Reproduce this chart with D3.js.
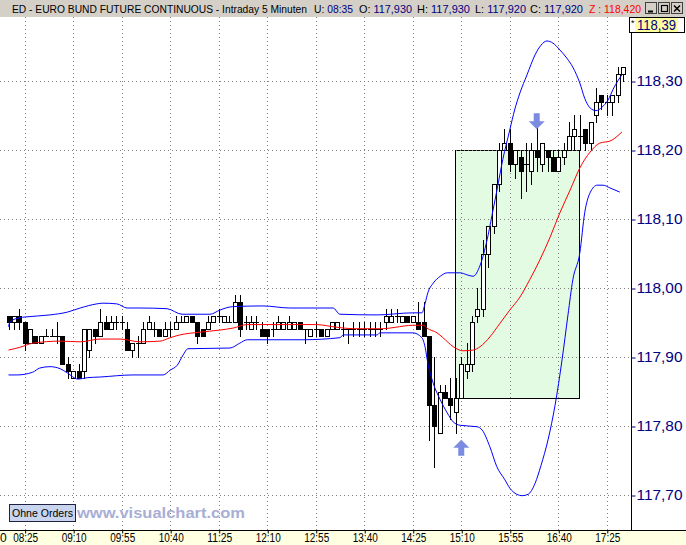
<!DOCTYPE html>
<html><head><meta charset="utf-8">
<script src="https://cdn.jsdelivr.net/npm/d3@7"></script>
<style>body{margin:0;background:#fff;}svg{display:block;font-family:"Liberation Sans",Arial,sans-serif;}</style>
</head><body><svg id="c" width="686" height="545"></svg>
<script>
// ---------- data ----------
const firstBar = "08:10";
const timeLabels = ["08:25","09:10","09:55","10:40","11:25","12:10","12:55","13:40","14:25","15:10","15:55","16:40","17:25"];
const priceTicks = [117.70,117.80,117.90,118.00,118.10,118.20,118.30];

const open = [117.96,117.95,117.96,117.95,117.92,117.93,117.92,117.93,117.93,117.93,
117.93,117.89,117.87,117.88,117.88,117.91,117.94,117.93,117.95,117.94,
117.95,117.95,117.94,117.91,117.92,117.92,117.94,117.94,117.94,117.93,
117.94,117.94,117.95,117.95,117.96,117.95,117.94,117.94,117.95,117.96,
117.95,117.95,117.95,117.98,117.95,117.94,117.95,117.94,117.94,117.94,
117.94,117.94,117.94,117.94,117.95,117.94,117.93,117.94,117.94,117.93,
117.94,117.94,117.94,117.94,117.94,117.94,117.94,117.94,117.94,117.94,
117.95,117.95,117.96,117.95,117.96,117.95,117.95,117.95,117.93,117.83,
117.79,117.85,117.84,117.82,117.84,117.88,117.89,117.96,117.97,118.05,
118.09,118.15,118.20,118.21,118.18,118.19,118.18,118.17,118.20,118.18,
118.20,118.19,118.17,118.19,118.20,118.22,118.22,118.23,118.21,118.25,
118.28,118.27,118.27,118.28,118.31];
const high = [117.96,117.96,117.97,117.95,117.94,117.93,117.93,117.94,117.94,117.95,
117.93,117.90,117.88,117.89,117.94,117.94,117.94,117.97,117.96,117.96,
117.96,117.96,117.95,117.92,117.93,117.95,117.96,117.95,117.94,117.95,
117.95,117.96,117.96,117.96,117.96,117.95,117.94,117.96,117.96,117.97,
117.96,117.96,117.99,117.99,117.96,117.96,117.96,117.95,117.94,117.95,
117.96,117.95,117.96,117.95,117.95,117.94,117.94,117.95,117.94,117.94,
117.95,117.95,117.95,117.94,117.95,117.95,117.95,117.95,117.95,117.95,
117.97,117.97,117.97,117.96,117.96,117.96,117.98,117.98,117.93,117.90,
117.86,117.86,117.87,117.87,117.90,117.92,117.96,118.00,118.07,118.09,
118.15,118.21,118.23,118.23,118.20,118.20,118.21,118.21,118.24,118.21,
118.20,118.20,118.20,118.21,118.24,118.25,118.25,118.23,118.24,118.29,
118.28,118.28,118.28,118.32,118.32];
const low = [117.94,117.94,117.94,117.91,117.92,117.92,117.92,117.93,117.93,117.92,
117.89,117.87,117.87,117.87,117.87,117.90,117.92,117.93,117.94,117.94,
117.94,117.94,117.91,117.90,117.90,117.92,117.94,117.93,117.93,117.93,
117.93,117.94,117.95,117.95,117.95,117.92,117.93,117.94,117.95,117.95,
117.95,117.95,117.95,117.93,117.94,117.94,117.94,117.93,117.92,117.93,
117.94,117.94,117.94,117.94,117.94,117.92,117.93,117.93,117.93,117.93,
117.94,117.94,117.93,117.92,117.93,117.93,117.93,117.93,117.93,117.93,
117.94,117.95,117.95,117.95,117.95,117.95,117.94,117.93,117.78,117.74,
117.79,117.84,117.81,117.79,117.84,117.87,117.88,117.95,117.96,118.03,
118.08,118.14,118.20,118.17,118.16,118.13,118.14,118.15,118.17,118.17,
118.17,118.17,118.17,118.18,118.20,118.20,118.20,118.20,118.20,118.24,
118.26,118.25,118.25,118.27,118.30];
const close = [117.95,117.96,117.95,117.92,117.94,117.92,117.93,117.93,117.93,117.93,
117.89,117.88,117.88,117.87,117.94,117.94,117.93,117.95,117.94,117.95,
117.95,117.95,117.91,117.92,117.92,117.94,117.95,117.94,117.93,117.94,
117.94,117.95,117.95,117.96,117.95,117.93,117.93,117.95,117.96,117.96,
117.96,117.95,117.98,117.94,117.95,117.95,117.95,117.93,117.93,117.94,
117.95,117.95,117.95,117.95,117.94,117.94,117.94,117.94,117.93,117.94,
117.95,117.95,117.94,117.94,117.94,117.94,117.94,117.94,117.94,117.94,
117.96,117.96,117.96,117.96,117.95,117.96,117.94,117.93,117.83,117.80,
117.85,117.84,117.83,117.84,117.89,117.89,117.95,117.97,118.05,118.09,
118.15,118.20,118.21,118.18,118.20,118.17,118.18,118.20,118.19,118.21,
118.19,118.17,118.19,118.20,118.22,118.23,118.22,118.21,118.24,118.27,
118.27,118.27,118.28,118.31,118.32];

// moving average (red), sampled at bar positions
const maBar = [0,2.1,4.5,9.6,13.3,17,20.7,24.4,28.1,30,31.8,35.5,39.2,41.7,44.3,47.2,52,57,61,64,69.5,71.7,75,77,77.6,79.5,80.6,82.5,84.3,86.2,87.5,89.3,91.2,93,94.9,96.7,98.6,100.5,102.3,104.2,106,107.9,109.7,111.6,113.8];
const maVal = [117.910,117.914,117.920,117.923,117.922,117.926,117.926,117.922,117.923,117.928,117.932,117.936,117.939,117.942,117.947,117.947,117.947,117.947,117.943,117.941,117.941,117.943,117.946,117.946,117.942,117.935,117.928,117.915,117.909,117.910,117.915,117.929,117.949,117.968,117.987,118.012,118.041,118.074,118.109,118.142,118.174,118.197,118.210,118.213,118.226];
// upper band (blue)
const upBar = [0,0.3,2.1,3.1,7.7,10.9,13.3,16.4,17.5,20.1,22.0,24.4,29.4,32.2,37.4,39.2,41.6,47.2,52.2,60.2,61.5,68.4,75.0,76.7,77.3,77.8,78.8,80.1,81.4,83.8,85.1,86.2,87.5,88.8,89.7,90.6,91.7,93.0,93.9,94.9,96.2,97.7,98.8,99.9,101.0,102.3,103.6,104.7,106.0,106.9,107.9,109.0,110.1,111.2,112.3,113.8];
const upVal = [117.944,117.951,117.957,117.958,117.961,117.965,117.971,117.977,117.978,117.977,117.971,117.971,117.970,117.962,117.962,117.968,117.973,117.974,117.971,117.971,117.962,117.961,117.964,117.964,117.978,117.993,118.007,118.017,118.022,118.022,118.019,118.017,118.033,118.070,118.105,118.141,118.186,118.229,118.258,118.283,118.309,118.338,118.352,118.358,118.355,118.345,118.333,118.320,118.297,118.275,118.261,118.257,118.262,118.272,118.290,118.309];
// lower band (blue)
const loBar = [0,1.6,4.5,5.8,7.7,9.6,10.9,12.9,14.6,17.0,23.1,28.7,30.0,31.3,32.4,33.3,41.1,42.9,44.3,54.6,61.5,62.1,68.4,68.9,75.0,76.7,77.3,77.8,78.8,80.1,81.4,82.5,83.8,86.9,87.9,89.3,90.6,92.1,93.0,94.3,95.3,96.4,97.7,98.8,100.1,101.4,102.7,103.8,104.7,106.0,106.9,107.9,109.2,110.3,111.6,113.4];
const loVal = [117.874,117.874,117.878,117.884,117.886,117.883,117.877,117.868,117.870,117.871,117.874,117.874,117.881,117.888,117.903,117.912,117.913,117.920,117.925,117.925,117.928,117.932,117.932,117.935,117.935,117.928,117.914,117.891,117.862,117.838,117.819,117.806,117.801,117.799,117.794,117.770,117.741,117.722,117.710,117.701,117.699,117.701,117.717,117.743,117.780,117.830,117.896,117.961,118.012,118.051,118.109,118.138,118.149,118.149,118.145,118.139];

// highlighted range (bars, prices) and signal arrows
const zoneBars = [82.8, 105.85];
const zonePrices = [117.84, 118.20];
const buyArrow = {bar: 84, price: 117.78};
const sellArrow = {bar: 98, price: 118.23};

const titleParts = [
  {label:"ED - EURO BUND FUTURE CONTINUOUS - Intraday 5 Minuten", value:"", x:12, w:295, fs:10, color:"#000080"},
  {label:"U: ", value:"08:35", x:314, w:39, fs:11, color:"#000080"},
  {label:"O: ", value:"117,930", x:359, w:53, fs:11, color:"#000080"},
  {label:"H: ", value:"117,930", x:417, w:53, fs:11, color:"#000080"},
  {label:"L: ", value:"117,920", x:475, w:51, fs:11, color:"#000080"},
  {label:"C: ", value:"117,920", x:530, w:53, fs:11, color:"#000080"},
  {label:"", value:"Z : 118,420", x:589, w:52, fs:11, color:"#ff0000"}
];
const lastPrice = "118,39";

// ---------- layout ----------
const W = 686, H = 545;
const plotL = 0, plotR = 631, plotT = 17, plotB = 530;
const toMin = t => { const [h,m] = t.split(":").map(Number); return h*60+m; };
const barOf = t => (toMin(t) - toMin(firstBar)) / 5;

const x = d3.scaleLinear().domain([0, 114]).range([8.5, 8.5 + 5.39*114]);
const y = d3.scaleLinear().domain([117.70, 118.30]).range([495, 81]);

const svg = d3.select("#c");
svg.append("rect").attr("width", W).attr("height", H).attr("fill", "#fff");
const defs = svg.append("defs");
defs.append("clipPath").attr("id","pc").append("rect")
  .attr("x", plotL).attr("y", plotT).attr("width", plotR-plotL).attr("height", plotB-plotT);

// title bar
svg.append("rect").attr("x",0).attr("y",0).attr("width",W).attr("height",plotT).attr("fill","#d4d0c8");
titleParts.forEach(p => {
  const t = svg.append("text").attr("x", p.x).attr("y", 12.5).attr("font-size", p.fs)
    .attr("textLength", p.w).attr("lengthAdjust","spacingAndGlyphs");
  if (p.label) t.append("tspan").attr("fill","#000").text(p.label);
  if (p.value) t.append("tspan").attr("fill", p.color).text(p.value);
});
// window buttons
const btn = svg.append("g");
[645,658,671].forEach(bx => {
  btn.append("rect").attr("x",bx+0.5).attr("y",2.5).attr("width",11).attr("height",11)
    .attr("fill","#d4d0c8").attr("stroke","#404040");
});
btn.append("line").attr("x1",648).attr("x2",653).attr("y1",11.5).attr("y2",11.5).attr("stroke","#000").attr("stroke-width",2);
btn.append("rect").attr("x",661.5).attr("y",5.5).attr("width",6).attr("height",6).attr("fill","none").attr("stroke","#000").attr("stroke-width",1.2);
btn.append("path").attr("d","M674,5.5L680,11.5M680,5.5L674,11.5").attr("stroke","#000").attr("stroke-width",1.5);

// bottom strip
svg.append("rect").attr("x",0).attr("y",plotB).attr("width",W).attr("height",H-plotB).attr("fill","#ffffe1");

const plot = svg.append("g").attr("clip-path","url(#pc)");

// highlighted zone
plot.append("rect")
  .attr("x", Math.round(x(zoneBars[0]))+0.5).attr("y", Math.round(y(zonePrices[1]))+0.5)
  .attr("width", Math.round(x(zoneBars[1]) - x(zoneBars[0])))
  .attr("height", Math.round(y(zonePrices[0]) - y(zonePrices[1])))
  .attr("fill","#e3fae3").attr("stroke","#000").attr("stroke-width",1);

// grid
const tickBars = timeLabels.map(barOf);
plot.selectAll("line.vg").data(tickBars).join("line").attr("class","vg")
  .attr("x1", d => Math.round(x(d))+0.5).attr("x2", d => Math.round(x(d))+0.5)
  .attr("y1", plotT).attr("y2", plotB)
  .attr("stroke","#808080").attr("stroke-dasharray","1,3");
plot.selectAll("line.hg").data(priceTicks).join("line").attr("class","hg")
  .attr("x1", plotL).attr("x2", plotR)
  .attr("y1", d => Math.round(y(d))+0.5).attr("y2", d => Math.round(y(d))+0.5)
  .attr("stroke","#808080").attr("stroke-dasharray","1,3");

// candles
const bars = d3.range(open.length).map(i => ({i, o:open[i], h:high[i], l:low[i], c:close[i]}));
const cg = plot.append("g").attr("shape-rendering","crispEdges");
bars.forEach(d => {
  const cx = Math.round(x(d.i));
  cg.append("line").attr("x1",cx+0.5).attr("x2",cx+0.5)
    .attr("y1",Math.round(y(d.h))).attr("y2",Math.round(y(d.l))+1).attr("stroke","#000");
  const top = Math.round(y(Math.max(d.o,d.c))), bot = Math.round(y(Math.min(d.o,d.c)));
  if (bot - top < 1) {
    cg.append("line").attr("x1",cx-2).attr("x2",cx+3).attr("y1",top+0.5).attr("y2",top+0.5).attr("stroke","#000");
  } else {
    cg.append("rect").attr("x",cx-2+0.5).attr("y",top+0.5).attr("width",4).attr("height",bot-top)
      .attr("fill", d.c < d.o ? "#000" : "#fff").attr("stroke","#000");
  }
});

// indicator lines
const line = d3.line().x(d => x(d[0])).y(d => y(d[1])).curve(d3.curveMonotoneX);
plot.append("path").attr("d", line(d3.zip(upBar, upVal))).attr("fill","none").attr("stroke","#0000ff").attr("stroke-width",1);
plot.append("path").attr("d", line(d3.zip(loBar, loVal))).attr("fill","none").attr("stroke","#0000ff").attr("stroke-width",1);
plot.append("path").attr("d", line(d3.zip(maBar, maVal))).attr("fill","none").attr("stroke","#ff0000").attr("stroke-width",1);

// arrows
const arrowColor = "#7b8be2";
(function(){
  const cx = x(buyArrow.bar), ty = y(buyArrow.price);
  plot.append("path").attr("fill", arrowColor)
    .attr("d", `M${cx},${ty}L${cx+8},${ty+8}L${cx+3},${ty+8}L${cx+3},${ty+16}L${cx-3},${ty+16}L${cx-3},${ty+8}L${cx-8},${ty+8}Z`);
  const sx = x(sellArrow.bar), sy = y(sellArrow.price);
  plot.append("path").attr("fill", arrowColor)
    .attr("d", `M${sx},${sy}L${sx+8},${sy-8}L${sx+3},${sy-8}L${sx+3},${sy-16}L${sx-3},${sy-16}L${sx-3},${sy-8}L${sx-8},${sy-8}Z`);
})();

// right axis
svg.append("line").attr("x1",plotR+0.5).attr("x2",plotR+0.5).attr("y1",plotT).attr("y2",plotB).attr("stroke","#000");
const ra = svg.append("g").attr("transform",`translate(${plotR+0.5},0.5)`)
  .call(d3.axisRight(y).tickValues(priceTicks).tickSize(4).tickPadding(1)
    .tickFormat(d => d.toFixed(2).replace(".",",")));
ra.select(".domain").remove();
ra.selectAll("line").attr("stroke","#000080");
ra.selectAll("text").attr("font-size",14).attr("fill","#000080").attr("font-family",null)
  .attr("textLength",46).attr("lengthAdjust","spacingAndGlyphs");

// last price box
svg.append("rect").attr("x",629.5).attr("y",17.5).attr("width",55).attr("height",15).attr("fill","#fff").attr("stroke","#000");
svg.append("text").attr("x",631).attr("y",26).attr("font-size",9).text("*");
svg.append("rect").attr("x",635).attr("y",18).attr("width",43).attr("height",14).attr("fill","#ffffa0");
svg.append("text").attr("x",637).attr("y",30).attr("font-size",14).attr("fill","#000080")
  .attr("textLength",39).attr("lengthAdjust","spacingAndGlyphs").text(lastPrice);

// bottom axis
svg.append("line").attr("x1",0).attr("x2",W).attr("y1",plotB+0.5).attr("y2",plotB+0.5).attr("stroke","#000");
const ba = svg.append("g").attr("transform",`translate(0.5,${plotB+0.5})`)
  .call(d3.axisBottom(x).tickValues(tickBars).tickSize(3).tickPadding(0)
    .tickFormat((d,i) => timeLabels[i]));
ba.select(".domain").remove();
ba.selectAll("text").attr("font-size",12).attr("fill","#000").attr("font-family",null)
  .attr("textLength",25).attr("lengthAdjust","spacingAndGlyphs");
svg.append("text").attr("x",0).attr("y",542).attr("font-size",12).text("0");

// Ohne Orders button + watermark
svg.append("rect").attr("x",9.5).attr("y",504.5).attr("width",66).attr("height",17)
  .attr("fill","#c9d5ee").attr("stroke","#202040");
svg.append("text").attr("x",12).attr("y",517).attr("font-size",11).attr("fill","#000")
  .attr("textLength",61).attr("lengthAdjust","spacingAndGlyphs").text("Ohne Orders");
svg.append("text").attr("x",77).attr("y",518).attr("font-size",15).attr("font-weight","bold")
  .attr("fill","#a9aed4").attr("textLength",168).attr("lengthAdjust","spacingAndGlyphs").text("www.visualchart.com");
</script></body></html>
